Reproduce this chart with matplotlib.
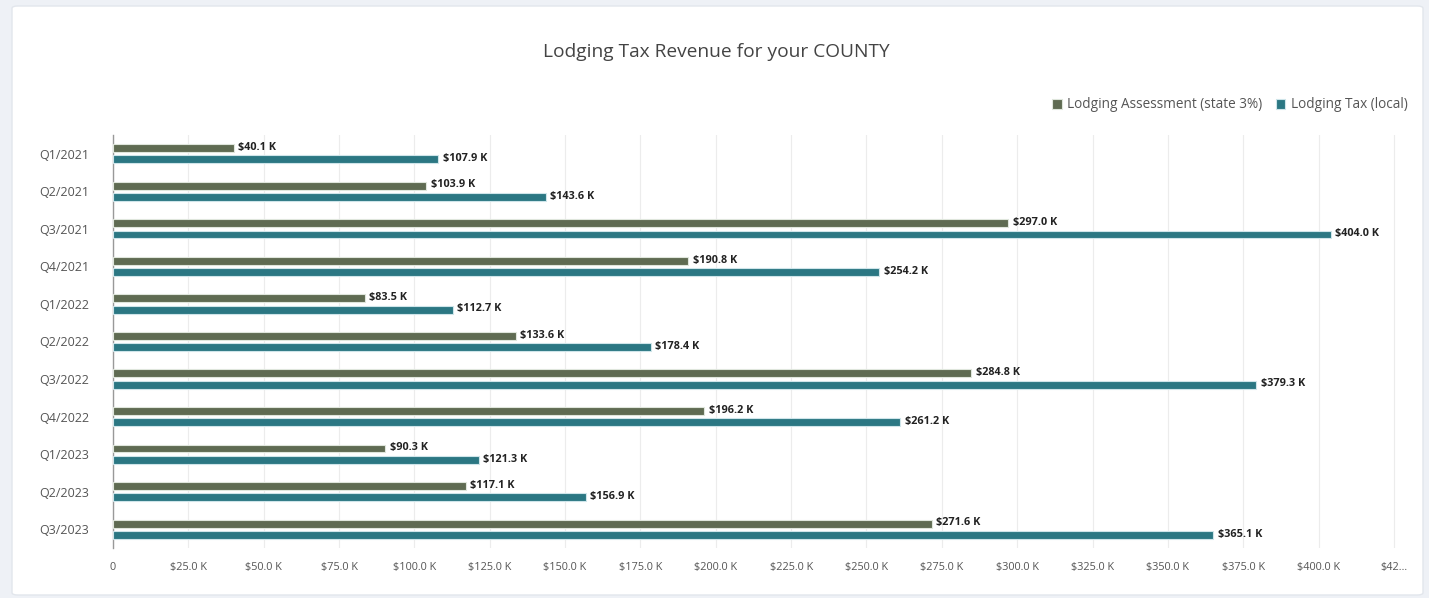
import matplotlib
matplotlib.use("Agg")
import matplotlib.pyplot as plt
from matplotlib.patches import FancyBboxPatch
import numpy as np

plt.rcParams['font.family'] = ['Open Sans', 'DejaVu Sans']

quarters = ["Q1/2021", "Q2/2021", "Q3/2021", "Q4/2021", "Q1/2022", "Q2/2022",
            "Q3/2022", "Q4/2022", "Q1/2023", "Q2/2023", "Q3/2023"]
state_assessment = [40.1, 103.9, 297.0, 190.8, 83.5, 133.6, 284.8, 196.2, 90.3, 117.1, 271.6]
local_tax = [107.9, 143.6, 404.0, 254.2, 112.7, 178.4, 379.3, 261.2, 121.3, 156.9, 365.1]
series_names = ["Lodging Assessment (state 3%)", "Lodging Tax (local)"]
tick_values = [0, 25, 50, 75, 100, 125, 150, 175, 200, 225, 250, 275, 300, 325, 350, 375, 400, 425]

W, H = 1429, 598
fig = plt.figure(figsize=(W / 100, H / 100), dpi=100)
fig.patch.set_facecolor('#eef1f6')

# card background
card = FancyBboxPatch((12 / W, 3 / H), (1423 - 12) / W, (592 - 3) / H,
                      boxstyle="round,pad=0,rounding_size=0.004",
                      transform=fig.transFigure, facecolor='white',
                      edgecolor='#e2e6ec', linewidth=1.0, zorder=-10)
fig.patches.append(card)

left, right, top, bottom = 113, 1415, 135, 548
ax = fig.add_axes([left / W, 1 - bottom / H, (right - left) / W, (bottom - top) / H])
ax.set_facecolor('none')
ax.set_zorder(1)

c_state = '#5f6b52'
c_local = '#2b7783'
y = np.arange(len(quarters))
off = 0.15
h = 0.21
ax.barh(y - off, state_assessment, height=h, color=c_state, edgecolor='#dfe6dc',
        linewidth=0.8, zorder=3, label=series_names[0])
ax.barh(y + off, local_tax, height=h, color=c_local, edgecolor='#cfe5ea',
        linewidth=0.8, zorder=3, label=series_names[1])

for yi, v in zip(y - off, state_assessment):
    ax.text(v + 1.5, yi - 0.02, f"${v:.1f} K", fontsize=7.8, fontweight='bold',
            color='#222222', va='center', ha='left', zorder=4)
for yi, v in zip(y + off, local_tax):
    ax.text(v + 1.5, yi - 0.02, f"${v:.1f} K", fontsize=7.8, fontweight='bold',
            color='#222222', va='center', ha='left', zorder=4)

ax.set_ylim(len(quarters) - 0.5, -0.5)
ax.set_xlim(0, 432)
ax.set_yticks(y)
ax.set_yticklabels(quarters, fontsize=9, color='#555555')
ax.set_xticks(tick_values)
labels = []
for t in tick_values:
    if t == 0:
        labels.append("0")
    elif t == 425:
        labels.append("$42…")
    else:
        labels.append(f"${t:.1f} K")
ax.set_xticklabels(labels, fontsize=7.8, color='#555555')
ax.tick_params(axis='both', length=0, pad=10)
ax.tick_params(axis='y', pad=17)
ax.grid(axis='x', color='#ececec', linewidth=0.8, zorder=0)
for s in ['top', 'right', 'bottom']:
    ax.spines[s].set_visible(False)
ax.spines['left'].set_color('#999999')
ax.spines['left'].set_linewidth(1.0)

fig.text(716 / W, 1 - 52 / H, "Lodging Tax Revenue for your COUNTY", fontsize=13.8,
         color='#444444', ha='center', va='center')

leg = fig.legend(loc='center right', bbox_to_anchor=(1420 / W, 1 - 105 / H),
                 ncol=2, frameon=False, fontsize=9.8, handlelength=0.7,
                 handleheight=0.7, handletextpad=0.4, columnspacing=1.0)
for t in leg.get_texts():
    t.set_color('#555555')

fig.savefig("out.png", dpi=100, facecolor=fig.get_facecolor())
